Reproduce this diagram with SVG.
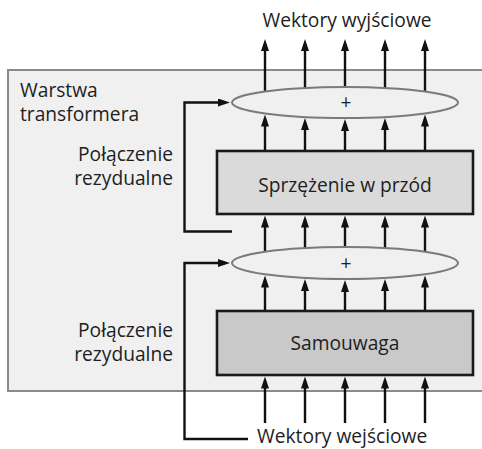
<svg xmlns="http://www.w3.org/2000/svg" width="482" height="449" viewBox="0 0 482 449">
<style>
.t{font-family:"Open Sans","Noto Sans",sans-serif;font-size:19.2px;fill:#1e1e1e}
.m{text-anchor:middle}
.e{text-anchor:end}
.c{fill:none;stroke:#111;stroke-width:2.4}
.box{stroke:#1a1a1a;stroke-width:2.6}
.ell{fill:#f0f0f0;stroke:#7a7a7a;stroke-width:2}
</style>
<defs>
<marker id="ah" viewBox="0 0 12 8" markerWidth="12" markerHeight="8" refX="7" refY="4" markerUnits="userSpaceOnUse" orient="auto">
<path d="M0,0 L12,4 L0,8 z" fill="#111"/>
</marker>
</defs>
<rect width="482" height="449" fill="#fff"/>
<g id="layer">
<rect x="8" y="70" width="490" height="321" fill="#f0f0f0" stroke="#8a8a8a" stroke-width="2"/>
<text class="t" x="20" y="97">Warstwa</text>
<text class="t" x="20" y="121">transformera</text>
</g>
<g id="connectors" class="c" marker-end="url(#ah)">
<path d="M265,91.5 V44"/><path d="M305,88 V44"/><path d="M345,87 V44"/><path d="M385,88 V44"/><path d="M425,91.5 V44"/>
<path d="M265,151 V119.5"/><path d="M305,151 V123"/><path d="M345,151 V124"/><path d="M385,151 V123"/><path d="M425,151 V119.5"/>
<path d="M265,251.7 V220.5"/><path d="M305,248 V220.5"/><path d="M345,247 V220.5"/><path d="M385,248 V220.5"/><path d="M425,251.7 V220.5"/>
<path d="M265,311 V280.5"/><path d="M305,311 V284"/><path d="M345,311 V285"/><path d="M385,311 V284"/><path d="M425,311 V280.5"/>
<path d="M265,423 V381.5"/><path d="M305,423 V381.5"/><path d="M345,423 V381.5"/><path d="M385,423 V381.5"/><path d="M425,423 V381.5"/>
<path d="M232,231.5 H184.5 V102.5 H225"/>
<path d="M248,439 H184.5 V263 H225"/>
</g>
<g id="add2">
<ellipse class="ell" cx="345" cy="102.5" rx="113" ry="15.5"/>
<text class="t m" x="346" y="109">+</text>
</g>
<g id="feedforward">
<rect class="box" x="217" y="151" width="256" height="63" fill="#dadada"/>
<text class="t m" x="345" y="192">Sprzężenie w przód</text>
</g>
<g id="residual1-label">
<text class="t e" x="173" y="161">Połączenie</text>
<text class="t e" x="173" y="185">rezydualne</text>
</g>
<g id="add1">
<ellipse class="ell" cx="345" cy="263" rx="113" ry="16"/>
<text class="t m" x="346" y="270">+</text>
</g>
<g id="selfattention">
<rect class="box" x="217" y="311" width="256" height="64" fill="#c9c9c9"/>
<text class="t m" x="345" y="350">Samouwaga</text>
</g>
<g id="residual2-label">
<text class="t e" x="173" y="337">Połączenie</text>
<text class="t e" x="173" y="361">rezydualne</text>
</g>
<g id="output">
<text class="t m" x="347" y="27">Wektory wyjściowe</text>
</g>
<g id="input">
<text class="t" x="257" y="443">Wektory wejściowe</text>
</g>
</svg>
